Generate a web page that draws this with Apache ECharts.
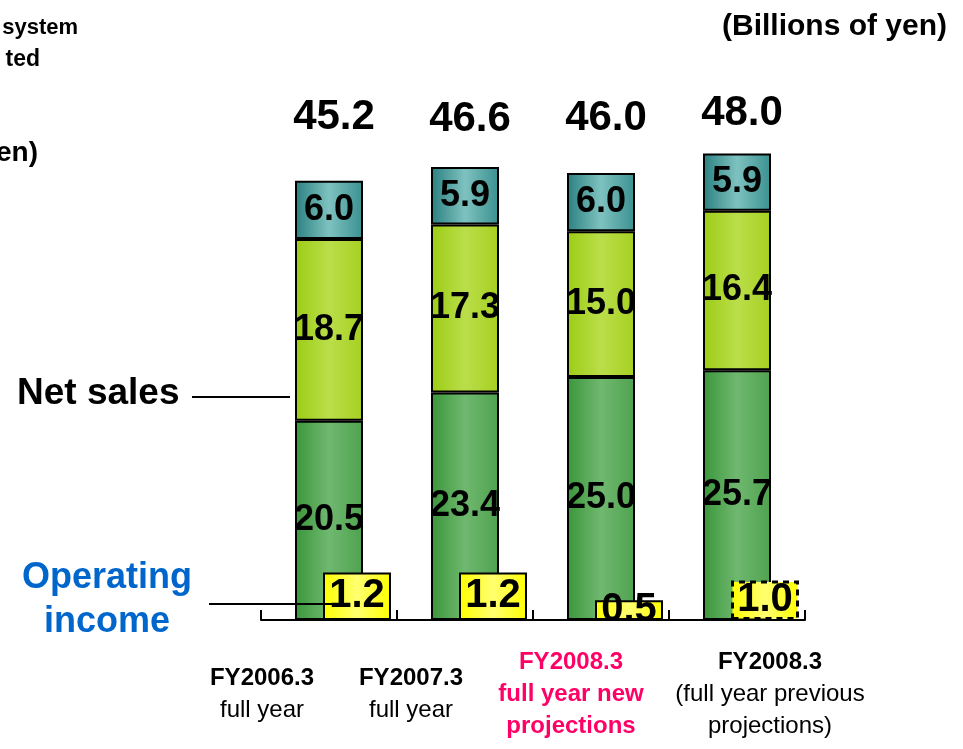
<!DOCTYPE html>
<html>
<head>
<meta charset="utf-8">
<script src="https://cdn.jsdelivr.net/npm/echarts@6/dist/echarts.min.js"></script>
<style>
  html, body { margin: 0; padding: 0; background: #fff; }
  #chart { width: 963px; height: 749px; }
</style>
</head>
<body>
<div id="chart"></div>
<script>
// chart data
const periodTitles = ['FY2006.3', 'FY2007.3', 'FY2008.3', 'FY2008.3'];
const periodNotes = [['full year'], ['full year'], ['full year new', 'projections'], ['(full year previous', 'projections)']];
const salesBottom = [20.5, 23.4, 25.0, 25.7];
const salesMiddle = [18.7, 17.3, 15.0, 16.4];
const salesTop = [6.0, 5.9, 6.0, 5.9];
const salesTotal = [45.2, 46.6, 46.0, 48.0];
const operatingIncome = [1.2, 1.2, 0.5, 1.0];

// layout tweaks (label shifts in px)
const labelShift = [-67, -54, -30, 33];
const totalGap = [42, 27, 33, 19];

const FONT = '"Liberation Sans", Arial, sans-serif';
const chart = echarts.init(document.getElementById('chart'));

function grad (stops) {
  return new echarts.graphic.LinearGradient(0, 0, 1, 0,
    stops.map((c, i) => ({ offset: i / (stops.length - 1), color: c })));
}

const rich = {};
labelShift.forEach((s, i) => {
  const pad = s < 0 ? [0, -2 * s, 0, 0] : [0, 0, 0, 2 * s];
  const pink = i === 2;
  rich['t' + i] = { fontSize: 24, fontWeight: 'bold', lineHeight: 32, padding: pad, color: pink ? '#ff0066' : '#000', fontFamily: FONT };
  rich['n' + i] = { fontSize: 24, fontWeight: pink ? 'bold' : 'normal', lineHeight: 32, padding: pad, color: pink ? '#ff0066' : '#000', fontFamily: FONT };
});

const segLabel = {
  show: true,
  position: 'inside',
  color: '#000',
  fontSize: 36,
  fontWeight: 'bold',
  fontFamily: FONT,
  formatter: p => p.value.toFixed(1)
};

function salesSeries (name, data, colors) {
  return {
    name: name,
    type: 'bar',
    stack: 'sales',
    xAxisIndex: 0,
    yAxisIndex: 0,
    barWidth: 68,
    itemStyle: { color: grad(colors), borderColor: '#000', borderWidth: 2 },
    label: segLabel,
    data: data
  };
}

// invisible cap on the stack that carries the total label
const totalSeries = {
  name: 'total',
  type: 'bar',
  stack: 'sales',
  xAxisIndex: 0,
  yAxisIndex: 0,
  barWidth: 68,
  itemStyle: { color: 'transparent' },
  silent: true,
  data: salesTotal.map((v, i) => ({
    value: 0,
    label: {
      show: true,
      position: 'top',
      distance: totalGap[i],
      offset: [5, 0],
      color: '#000',
      fontSize: 42,
      fontWeight: 'bold',
      fontFamily: FONT,
      formatter: () => v.toFixed(1)
    }
  }))
};

chart.setOption({
  animation: false,
  grid: [
    { left: 261, right: 158, top: 134, bottom: 129 },
    { left: 289, right: 130, top: 134, bottom: 129 }
  ],
  xAxis: [
    {
      type: 'category',
      gridIndex: 0,
      data: periodTitles,
      axisLine: { lineStyle: { color: '#000', width: 2 } },
      axisTick: { show: true, inside: true, length: 10, lineStyle: { color: '#000', width: 2 } },
      axisLabel: {
        interval: 0,
        margin: 74,
        verticalAlign: 'middle',
        formatter: (val, i) => ['{t' + i + '|' + periodTitles[i] + '}']
          .concat(periodNotes[i].map(n => '{n' + i + '|' + n + '}')).join('\n'),
        rich: rich
      }
    },
    {
      type: 'category',
      gridIndex: 1,
      data: periodTitles,
      show: false
    }
  ],
  yAxis: [
    { type: 'value', gridIndex: 0, min: 0, max: 50, show: false },
    { type: 'value', gridIndex: 1, min: 0, max: 12.3, show: false }
  ],
  series: [
    salesSeries('bottom', salesBottom, ['#3a963a', '#70b870', '#4ea24e']),
    salesSeries('middle', salesMiddle, ['#9ccc14', '#bade4a', '#a6d020']),
    salesSeries('top', salesTop, ['#2a8080', '#7ec2c0', '#3a9090']),
    totalSeries,
    {
      name: 'Operating income',
      type: 'bar',
      xAxisIndex: 1,
      yAxisIndex: 1,
      barWidth: 68,
      z: 5,
      itemStyle: { color: grad(['#ffff00', '#ffff70', '#ffff00']), borderColor: '#000', borderWidth: 2 },
      label: {
        show: true,
        position: 'inside',
        color: '#000',
        fontSize: 40,
        fontWeight: 'bold',
        fontFamily: FONT,
        formatter: p => p.value.toFixed(1)
      },
      data: operatingIncome.map((v, i) => i === 3
        ? { value: v, itemStyle: { borderType: [6, 5], borderWidth: 3 } }
        : v)
    }
  ],
  graphic: [
    { type: 'text', z: 100, style: { text: 'system', x: 78, y: 28, textAlign: 'right', textVerticalAlign: 'middle', fontSize: 22, fontWeight: 'bold', fontFamily: FONT, fill: '#000' } },
    { type: 'text', z: 100, style: { text: 'ted', x: 40, y: 60, textAlign: 'right', textVerticalAlign: 'middle', fontSize: 23, fontWeight: 'bold', fontFamily: FONT, fill: '#000' } },
    { type: 'text', z: 100, style: { text: 'en)', x: 38, y: 153, textAlign: 'right', textVerticalAlign: 'middle', fontSize: 28, fontWeight: 'bold', fontFamily: FONT, fill: '#000' } },
    { type: 'text', z: 100, style: { text: '(Billions of yen)', x: 947, y: 27, textAlign: 'right', textVerticalAlign: 'middle', fontSize: 30, fontWeight: 'bold', fontFamily: FONT, fill: '#000' } },
    { type: 'text', z: 100, style: { text: 'Net sales', x: 17, y: 394, textAlign: 'left', textVerticalAlign: 'middle', fontSize: 37, fontWeight: 'bold', fontFamily: FONT, fill: '#000' } },
    { type: 'line', z: 100, shape: { x1: 192, y1: 397, x2: 290, y2: 397 }, style: { stroke: '#000', lineWidth: 2 } },
    { type: 'text', z: 100, style: { text: 'Operating\nincome', x: 107, y: 600, textAlign: 'center', textVerticalAlign: 'middle', fontSize: 36, lineHeight: 44, fontWeight: 'bold', fontFamily: FONT, fill: '#0066cc' } },
    { type: 'line', z: 100, shape: { x1: 209, y1: 604, x2: 335, y2: 604 }, style: { stroke: '#000', lineWidth: 2 } }
  ]
});
</script>
</body>
</html>
